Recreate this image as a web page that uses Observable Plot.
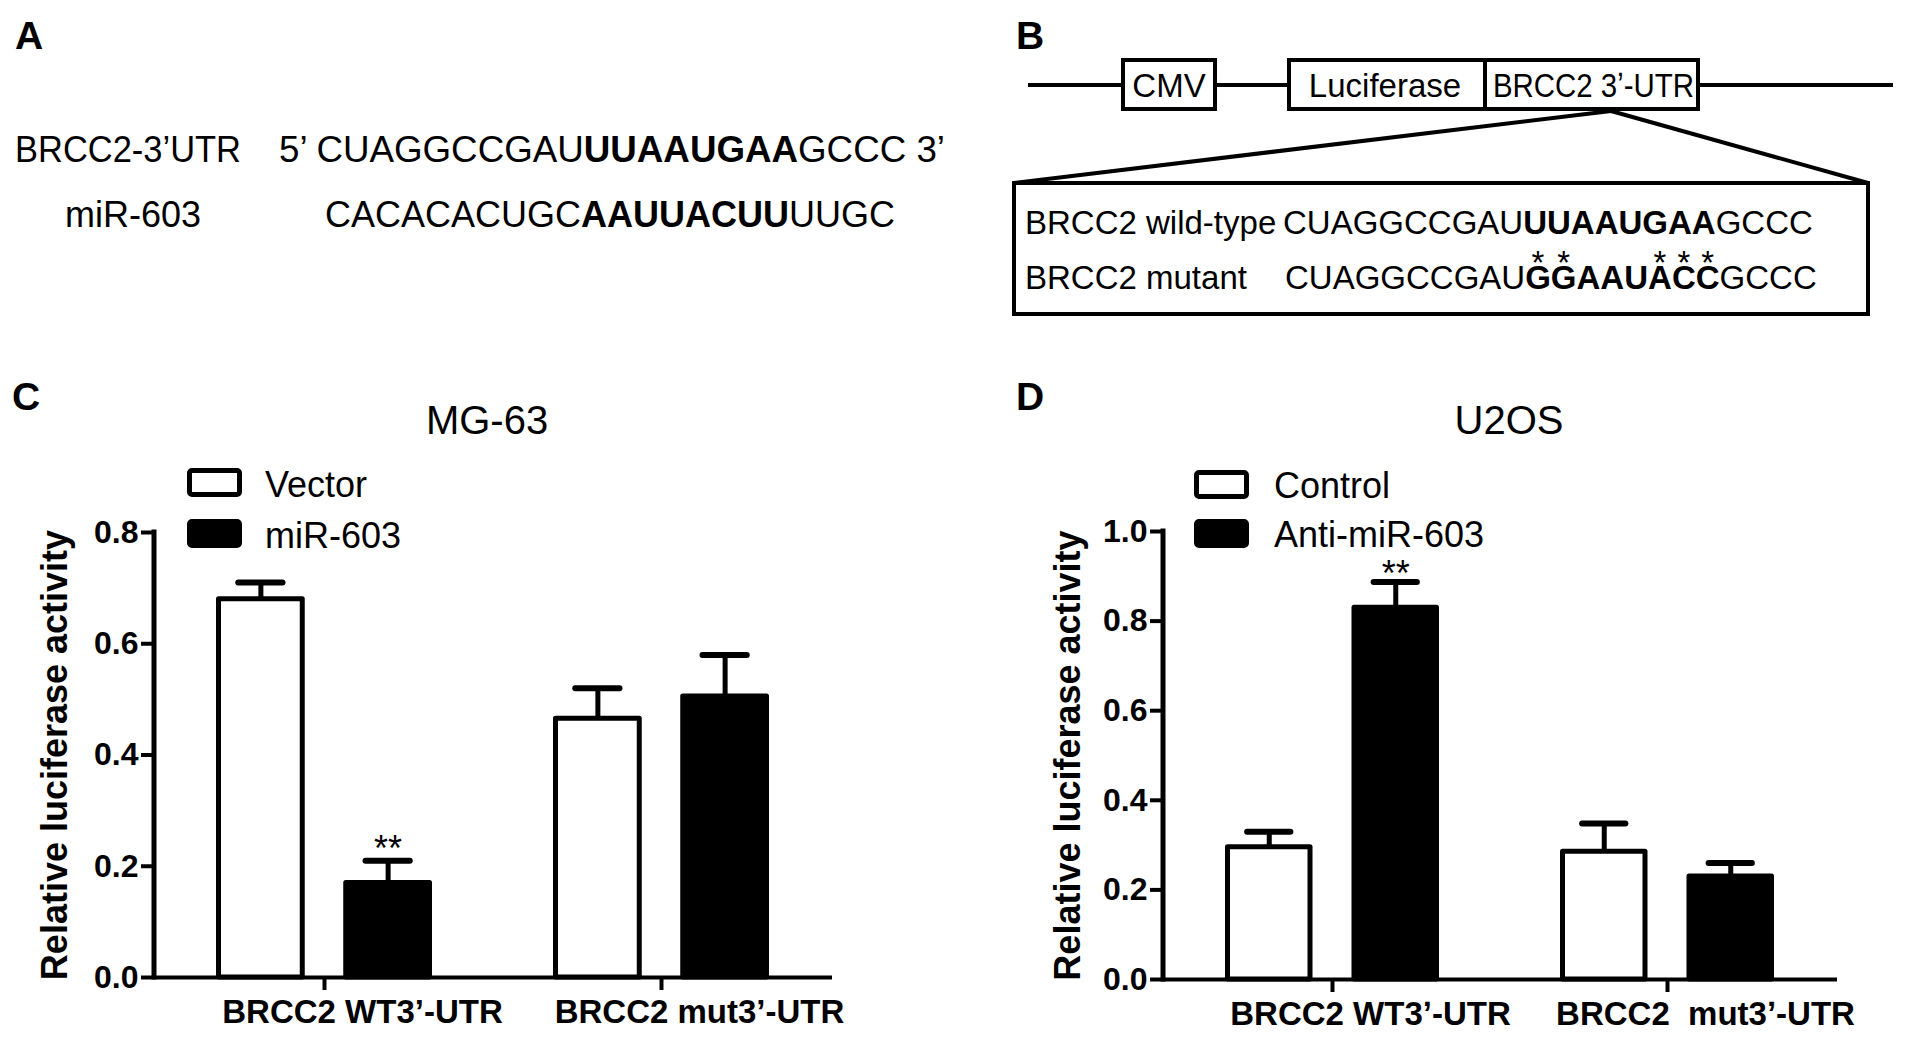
<!DOCTYPE html>
<html><head><meta charset="utf-8">
<script src="https://cdn.jsdelivr.net/npm/d3@7"></script>
<script src="https://cdn.jsdelivr.net/npm/@observablehq/plot@0.6"></script>
<style>
html,body{margin:0;padding:0;background:#fff;}
body{width:1913px;height:1041px;position:relative;overflow:hidden;font-family:"Liberation Sans",Arial,Helvetica,sans-serif;color:#000;}
.t{position:absolute;white-space:pre;line-height:1;}
.box{position:absolute;box-sizing:border-box;border:4px solid #000;background:#fff;}
.hl{position:absolute;background:#000;}
.m{position:relative;}
.m::before{content:"*";position:absolute;left:50%;transform:translateX(-50%);top:-0.40em;font-weight:400;}
.leg{position:absolute;box-sizing:border-box;border:5px solid #000;border-radius:5px;width:55px;height:29px;}
.chart{position:absolute;}
.chart svg{max-width:none!important;}
</style></head><body>
<script>
// ---------- Panel A data ----------
const utrLabel = "BRCC2-3’UTR";
const utrSeq = ["5’ CUAGGCCGAU", "UUAAUGAA", "GCCC 3’"];
const mirLabel = "miR-603";
const mirSeq = ["CACACACUGC", "AAUUACUU", "UUGC"];
// ---------- Panel B data ----------
const constructParts = ["CMV", "Luciferase", "BRCC2 3ʼ-UTR"];
const wildLabel = "BRCC2 wild-type";
const wildSeq = ["CUAGGCCGAU", "UUAAUGAA", "GCCC"];
const mutLabel = "BRCC2 mutant";
const mutSeq = ["CUAGGCCGAU", "GGAAUACC", "GCCC"];
const mutatedSites = [true, true, false, false, false, true, true, true];
// ---------- Panel C data ----------
const titleC = "MG-63";
const groupsC = ["BRCC2 WT3’-UTR", "BRCC2 mut3’-UTR"];
const seriesC = ["Vector", "miR-603"];
const vectorMeanC = [0.68, 0.465];
const vectorErrC = [0.03, 0.055];
const mirMeanC = [0.17, 0.505];
const mirErrC = [0.04, 0.075];
const vectorSigC = ["", ""];
const mirSigC = ["**", ""];
const yTicksC = [0, 0.2, 0.4, 0.6, 0.8];
// ---------- Panel D data ----------
const titleD = "U2OS";
const groupsD = ["BRCC2 WT3ʼ-UTR", "BRCC2\u00a0 mut3ʼ-UTR"];
const seriesD = ["Control", "Anti-miR-603"];
const controlMeanD = [0.295, 0.285];
const controlErrD = [0.035, 0.063];
const antiMeanD = [0.83, 0.23];
const antiErrD = [0.057, 0.03];
const controlSigD = ["", ""];
const antiSigD = ["**", ""];
const yTicksD = [0, 0.2, 0.4, 0.6, 0.8, 1.0];
const yLabel = "Relative luciferase activity";

const FONT = '"Liberation Sans", Arial, Helvetica, sans-serif';

function addText(html, {left, center, baseline, size, weight = 400, width}) {
  const el = document.createElement("div");
  el.className = "t";
  el.innerHTML = html;
  el.style.fontSize = size + "px";
  el.style.fontWeight = weight;
  el.style.top = (baseline - 0.8465 * size) + "px";
  el.style.left = "0px";
  document.body.appendChild(el);
  const w = el.getBoundingClientRect().width;
  const s = width ? width / w : 1;
  const fw = w * s;
  el.style.left = (center !== undefined ? center - fw / 2 : left) + "px";
  if (width) { el.style.transformOrigin = "0 0"; el.style.transform = `scaleX(${s})`; }
  return el;
}
function addDiv(cls, l, t, w, h) {
  const el = document.createElement("div");
  el.className = cls;
  Object.assign(el.style, {left: l + "px", top: t + "px", width: w + "px", height: h + "px"});
  document.body.appendChild(el);
  return el;
}
const seqHTML = (parts) => `${parts[0]}<b>${parts[1]}</b>${parts[2]}`;

// ---------- Panel A ----------
addText("A", {left: 15, baseline: 49, size: 39, weight: 700});
addText(utrLabel, {left: 15, baseline: 162, size: 36, width: 226});
addText(seqHTML(utrSeq), {left: 279, baseline: 162, size: 36, width: 666});
addText(mirLabel, {left: 65, baseline: 227, size: 36});
addText(seqHTML(mirSeq), {left: 325, baseline: 227, size: 36});

// ---------- Panel B ----------
addText("B", {left: 1016, baseline: 49, size: 39, weight: 700});
addDiv("hl", 1028, 83, 865, 4);
addDiv("box", 1121, 58, 96, 53);
addDiv("box", 1287, 58, 413, 53);
addDiv("hl", 1483, 58, 4, 53);
addText(constructParts[0], {center: 1169, baseline: 97, size: 33});
addText(constructParts[1], {center: 1385, baseline: 97, size: 33});
addText(constructParts[2], {center: 1593, baseline: 97, size: 33, width: 201});
{
  const svg = d3.select(document.body).append("svg")
    .attr("width", 1913).attr("height", 330)
    .style("position", "absolute").style("left", "0px").style("top", "0px");
  const apex = [1611, 111];
  [[1014, 183], [1868, 183]].forEach(p => svg.append("line")
    .attr("x1", apex[0]).attr("y1", apex[1]).attr("x2", p[0]).attr("y2", p[1])
    .attr("stroke", "#000").attr("stroke-width", 4));
}
addDiv("box", 1012, 181, 858, 135);
addText(wildLabel, {left: 1025, baseline: 234, size: 33});
addText(seqHTML(wildSeq), {left: 1283, baseline: 234, size: 33});
addText(mutLabel, {left: 1025, baseline: 289, size: 33});
{
  const letters = mutSeq[1].split("").map((c, i) => mutatedSites[i] ? `<span class="m">${c}</span>` : c).join("");
  addText(`${mutSeq[0]}<b>${letters}</b>${mutSeq[2]}`, {left: 1285, baseline: 289, size: 33});
}

// ---------- Bar charts ----------
function barChart({groups, series, means, errs, sigs, ticks, yMax, left, top, width, height,
                   marginLeft, marginRight, marginTop, marginBottom, labelDx, sigDy}) {
  const rows = [];
  series.forEach((s, si) => groups.forEach((g, gi) =>
    rows.push({group: g, series: s, si, mean: means[si][gi], err: errs[si][gi], sig: sigs[si][gi]})));
  const xOpts = {type: "band", domain: groups, paddingInner: 0.36, paddingOuter: 0.183, align: 0.495};
  const bw = Plot.scale({x: {...xOpts, range: [marginLeft, width - marginRight]}}).bandwidth;
  const sub = d3.scaleBand(series, [0, bw]).paddingInner(0.3);
  const sw = 5;
  const marks = [];
  series.forEach((s, si) => {
    const data = rows.filter(d => d.series === s);
    const l = sub(s), r = bw - sub(s) - sub.bandwidth();
    const c = sub(s) + sub.bandwidth() / 2 - bw / 2;
    marks.push(Plot.ruleX(data, {x: "group", y1: "mean", y2: d => d.mean + d.err, dx: c, stroke: "black", strokeWidth: sw}));
    marks.push(Plot.tickY(data, {x: "group", y: d => d.mean + d.err, insetLeft: l + sub.bandwidth() / 4,
      insetRight: r + sub.bandwidth() / 4, stroke: "black", strokeWidth: 6, strokeLinecap: "round"}));
    marks.push(Plot.barY(data, {x: "group", y: "mean", fill: si ? "black" : "white", stroke: "black",
      strokeWidth: sw, strokeLinejoin: "round", insetLeft: l + sw / 2, insetRight: r + sw / 2}));
    marks.push(Plot.text(data.filter(d => d.sig), {x: "group", y: d => d.mean + d.err, text: "sig", dx: c, dy: sigDy,
      lineAnchor: "bottom", fontSize: 36, fill: "black"}));
  });
  marks.push(
    Plot.ruleY([0], {stroke: "black", strokeWidth: 4}),
    (index, scales, values, dims) => d3.create("svg:line")
      .attr("x1", dims.marginLeft).attr("x2", dims.marginLeft)
      .attr("y1", scales.y(yMax)).attr("y2", scales.y(0))
      .attr("stroke", "black").attr("stroke-width", 5).attr("stroke-linecap", "square").node(),
    Plot.axisY({ticks, tickSize: 13, tickPadding: 3, stroke: "black", strokeWidth: 4, fontSize: 32, fontWeight: "bold",
      tickFormat: d3.format(".1f"), label: null}),
    Plot.axisX({tickSize: 13, stroke: "black", strokeWidth: 4, tickFormat: () => "", label: null}),
    Plot.text(groups, {x: d => d, frameAnchor: "bottom", lineAnchor: "top", dy: 22, dx: 38, fontSize: 33,
      fontWeight: "bold", fill: "black"}),
    Plot.text([yLabel], {frameAnchor: "left", textAnchor: "middle", rotate: -90, dx: labelDx, fontSize: 36,
      fontWeight: "bold", fill: "black"})
  );
  const plot = Plot.plot({
    width, height, marginLeft, marginRight, marginTop, marginBottom,
    x: xOpts,
    y: {domain: [0, yMax]},
    style: {fontFamily: FONT, color: "black", background: "transparent", overflow: "visible"},
    marks
  });
  const holder = document.createElement("div");
  holder.className = "chart";
  Object.assign(holder.style, {left: left + "px", top: top + "px", width: width + "px", height: height + "px"});
  holder.appendChild(plot);
  document.body.appendChild(holder);
}

barChart({groups: groupsC, series: seriesC, means: [vectorMeanC, mirMeanC], errs: [vectorErrC, mirErrC],
  sigs: [vectorSigC, mirSigC], ticks: yTicksC, yMax: 0.8, left: 0, top: 380, width: 900, height: 661,
  marginLeft: 154, marginRight: 68, marginTop: 152, marginBottom: 64, labelDx: -99, sigDy: 0});
barChart({groups: groupsD, series: seriesD, means: [controlMeanD, antiMeanD], errs: [controlErrD, antiErrD],
  sigs: [controlSigD, antiSigD], ticks: yTicksD, yMax: 1.0, left: 1009, top: 380, width: 904, height: 661,
  marginLeft: 154, marginRight: 76, marginTop: 151, marginBottom: 62, labelDx: -95, sigDy: 4});

// ---------- Panel C/D labels, titles, legends ----------
addText("C", {left: 12, baseline: 410, size: 39, weight: 700});
addText(titleC, {center: 487, baseline: 434, size: 40});
addDiv("leg", 187, 468, 55, 29).style.background = "#fff";
addDiv("leg", 187, 519, 55, 29).style.background = "#000";
addText(seriesC[0], {left: 265, baseline: 497, size: 36});
addText(seriesC[1], {left: 265, baseline: 548, size: 36});

addText("D", {left: 1016, baseline: 410, size: 39, weight: 700});
addText(titleD, {center: 1509, baseline: 434, size: 40});
addDiv("leg", 1194, 470, 55, 29).style.background = "#fff";
addDiv("leg", 1194, 519, 55, 29).style.background = "#000";
addText(seriesD[0], {left: 1274, baseline: 498, size: 36});
addText(seriesD[1], {left: 1274, baseline: 547, size: 36});
</script></body></html>
